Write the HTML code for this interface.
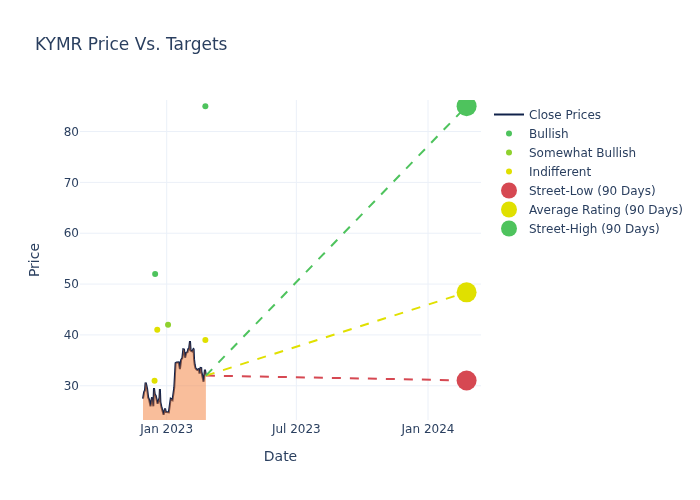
<!DOCTYPE html>
<html><head><meta charset="utf-8"><title>KYMR Price Vs. Targets</title>
<style>html,body{margin:0;padding:0;background:#fff}body{width:700px;height:500px;overflow:hidden}</style></head>
<body>
<svg width="700" height="500" viewBox="0 0 700 500" style="display:block;background:#fff">
<rect width="700" height="500" fill="#fff"/>
<defs><clipPath id="cp"><rect x="80" y="100" width="401" height="320"/></clipPath></defs>
<path d="M166.70,100V420" stroke="#EBF0F8" stroke-width="1" fill="none"/>
<path d="M296.35,100V420" stroke="#EBF0F8" stroke-width="1" fill="none"/>
<path d="M428.00,100V420" stroke="#EBF0F8" stroke-width="1" fill="none"/>
<path d="M80,385.75H481" stroke="#EBF0F8" stroke-width="1" fill="none"/>
<path d="M80,334.91H481" stroke="#EBF0F8" stroke-width="1" fill="none"/>
<path d="M80,284.07H481" stroke="#EBF0F8" stroke-width="1" fill="none"/>
<path d="M80,233.23H481" stroke="#EBF0F8" stroke-width="1" fill="none"/>
<path d="M80,182.39H481" stroke="#EBF0F8" stroke-width="1" fill="none"/>
<path d="M80,131.55H481" stroke="#EBF0F8" stroke-width="1" fill="none"/>
<g clip-path="url(#cp)">
<path d="M143.00,398.55L144.12,391.94L144.97,390.24L145.57,382.61L145.98,383.53L147.11,388.69L148.17,397.43L149.12,399.63L150.50,406.27L152.00,397.28L153.35,406.25L154.00,388.06L154.80,394.40L155.75,395.69L157.60,403.70L159.49,397.78L159.90,388.94L160.41,402.17L161.56,407.61L163.60,414.71L165.01,408.54L165.82,411.93L168.81,412.28L170.69,398.73L172.49,400.12L174.25,387.74L175.00,374.03L175.58,363.13L176.63,362.56L178.75,362.38L179.95,369.05L181.16,359.76L182.36,357.97L183.31,349.28L184.01,349.47L185.10,357.66L186.28,352.85L187.57,352.09L188.35,348.35L188.91,350.10L190.00,341.06L190.65,350.53L192.23,351.41L193.43,349.04L193.65,349.24L194.05,359.14L194.71,364.78L195.46,368.11L196.69,369.68L198.11,370.14L198.78,368.34L199.45,373.67L200.53,367.98L201.23,368.08L201.40,371.57L203.55,381.67L204.95,369.57L205.90,375.09" fill="none" stroke="#10224A" stroke-width="2" stroke-linejoin="miter" stroke-miterlimit="2"/>
<path d="M143.00,398.55L144.12,391.94L144.97,390.24L145.57,382.61L145.98,383.53L147.11,388.69L148.17,397.43L149.12,399.63L150.50,406.27L152.00,397.28L153.35,406.25L154.00,388.06L154.80,394.40L155.75,395.69L157.60,403.70L159.49,397.78L159.90,388.94L160.41,402.17L161.56,407.61L163.60,414.71L165.01,408.54L165.82,411.93L168.81,412.28L170.69,398.73L172.49,400.12L174.25,387.74L175.00,374.03L175.58,363.13L176.63,362.56L178.75,362.38L179.95,369.05L181.16,359.76L182.36,357.97L183.31,349.28L184.01,349.47L185.10,357.66L186.28,352.85L187.57,352.09L188.35,348.35L188.91,350.10L190.00,341.06L190.65,350.53L192.23,351.41L193.43,349.04L193.65,349.24L194.05,359.14L194.71,364.78L195.46,368.11L196.69,369.68L198.11,370.14L198.78,368.34L199.45,373.67L200.53,367.98L201.23,368.08L201.40,371.57L203.55,381.67L204.95,369.57L205.90,375.09L205.9,420L143.0,420Z" fill="rgba(244,125,55,0.5)" stroke="none"/>
<circle cx="205.35" cy="106.13" r="3" fill="#4EC35D"/>
<circle cx="155.15" cy="273.90" r="3" fill="#4EC35D"/>
<circle cx="168.05" cy="324.74" r="3" fill="#8FD12E"/>
<circle cx="157.25" cy="329.83" r="3" fill="#E0E000"/>
<circle cx="154.55" cy="380.67" r="3" fill="#E0E000"/>
<circle cx="205.35" cy="339.99" r="3" fill="#E0E000"/>
<path d="M205.9,375.58L466.6,380.46" stroke="#D64852" stroke-width="2" stroke-dasharray="9,9" fill="none"/>
<circle cx="466.6" cy="380.46" r="10" fill="#D64852"/>
<path d="M205.9,375.58L466.6,292.31" stroke="#E0E000" stroke-width="2" stroke-dasharray="9,9" fill="none"/>
<circle cx="466.6" cy="292.31" r="10" fill="#E0E000"/>
<path d="M205.9,375.58L466.6,106.13" stroke="#4EC35D" stroke-width="2" stroke-dasharray="9,9" fill="none"/>
<circle cx="466.6" cy="106.13" r="10" fill="#4EC35D"/>
</g>
<text x="166.70" y="433" text-anchor="middle" font-family="DejaVu Sans, Liberation Sans, sans-serif" font-size="12" fill="#2a3f5f">Jan 2023</text>
<text x="296.35" y="433" text-anchor="middle" font-family="DejaVu Sans, Liberation Sans, sans-serif" font-size="12" fill="#2a3f5f">Jul 2023</text>
<text x="428.00" y="433" text-anchor="middle" font-family="DejaVu Sans, Liberation Sans, sans-serif" font-size="12" fill="#2a3f5f">Jan 2024</text>
<text x="79" y="389.95" text-anchor="end" font-family="DejaVu Sans, Liberation Sans, sans-serif" font-size="12" fill="#2a3f5f">30</text>
<text x="79" y="339.11" text-anchor="end" font-family="DejaVu Sans, Liberation Sans, sans-serif" font-size="12" fill="#2a3f5f">40</text>
<text x="79" y="288.27" text-anchor="end" font-family="DejaVu Sans, Liberation Sans, sans-serif" font-size="12" fill="#2a3f5f">50</text>
<text x="79" y="237.43" text-anchor="end" font-family="DejaVu Sans, Liberation Sans, sans-serif" font-size="12" fill="#2a3f5f">60</text>
<text x="79" y="186.59" text-anchor="end" font-family="DejaVu Sans, Liberation Sans, sans-serif" font-size="12" fill="#2a3f5f">70</text>
<text x="79" y="135.75" text-anchor="end" font-family="DejaVu Sans, Liberation Sans, sans-serif" font-size="12" fill="#2a3f5f">80</text>
<text x="35" y="50" font-family="DejaVu Sans, Liberation Sans, sans-serif" font-size="17" fill="#2a3f5f">KYMR Price Vs. Targets</text>
<text x="280.5" y="460.5" text-anchor="middle" font-family="DejaVu Sans, Liberation Sans, sans-serif" font-size="14" fill="#2a3f5f">Date</text>
<text transform="rotate(-90,38.5,260)" x="38.5" y="260" text-anchor="middle" font-family="DejaVu Sans, Liberation Sans, sans-serif" font-size="14" fill="#2a3f5f">Price</text>
<path d="M494,114.5H524" stroke="#10224A" stroke-width="2" fill="none"/>
<text x="529" y="119.18" font-family="DejaVu Sans, Liberation Sans, sans-serif" font-size="12" fill="#2a3f5f">Close Prices</text>
<circle cx="509" cy="133.5" r="3" fill="#4EC35D"/>
<text x="529" y="138.18" font-family="DejaVu Sans, Liberation Sans, sans-serif" font-size="12" fill="#2a3f5f">Bullish</text>
<circle cx="509" cy="152.5" r="3" fill="#8FD12E"/>
<text x="529" y="157.18" font-family="DejaVu Sans, Liberation Sans, sans-serif" font-size="12" fill="#2a3f5f">Somewhat Bullish</text>
<circle cx="509" cy="171.5" r="3" fill="#E0E000"/>
<text x="529" y="176.18" font-family="DejaVu Sans, Liberation Sans, sans-serif" font-size="12" fill="#2a3f5f">Indifferent</text>
<circle cx="509" cy="190.5" r="8" fill="#D64852"/>
<text x="529" y="195.18" font-family="DejaVu Sans, Liberation Sans, sans-serif" font-size="12" fill="#2a3f5f">Street-Low (90 Days)</text>
<circle cx="509" cy="209.5" r="8" fill="#E0E000"/>
<text x="529" y="214.18" font-family="DejaVu Sans, Liberation Sans, sans-serif" font-size="12" fill="#2a3f5f">Average Rating (90 Days)</text>
<circle cx="509" cy="228.5" r="8" fill="#4EC35D"/>
<text x="529" y="233.18" font-family="DejaVu Sans, Liberation Sans, sans-serif" font-size="12" fill="#2a3f5f">Street-High (90 Days)</text>
</svg>
</body></html>
